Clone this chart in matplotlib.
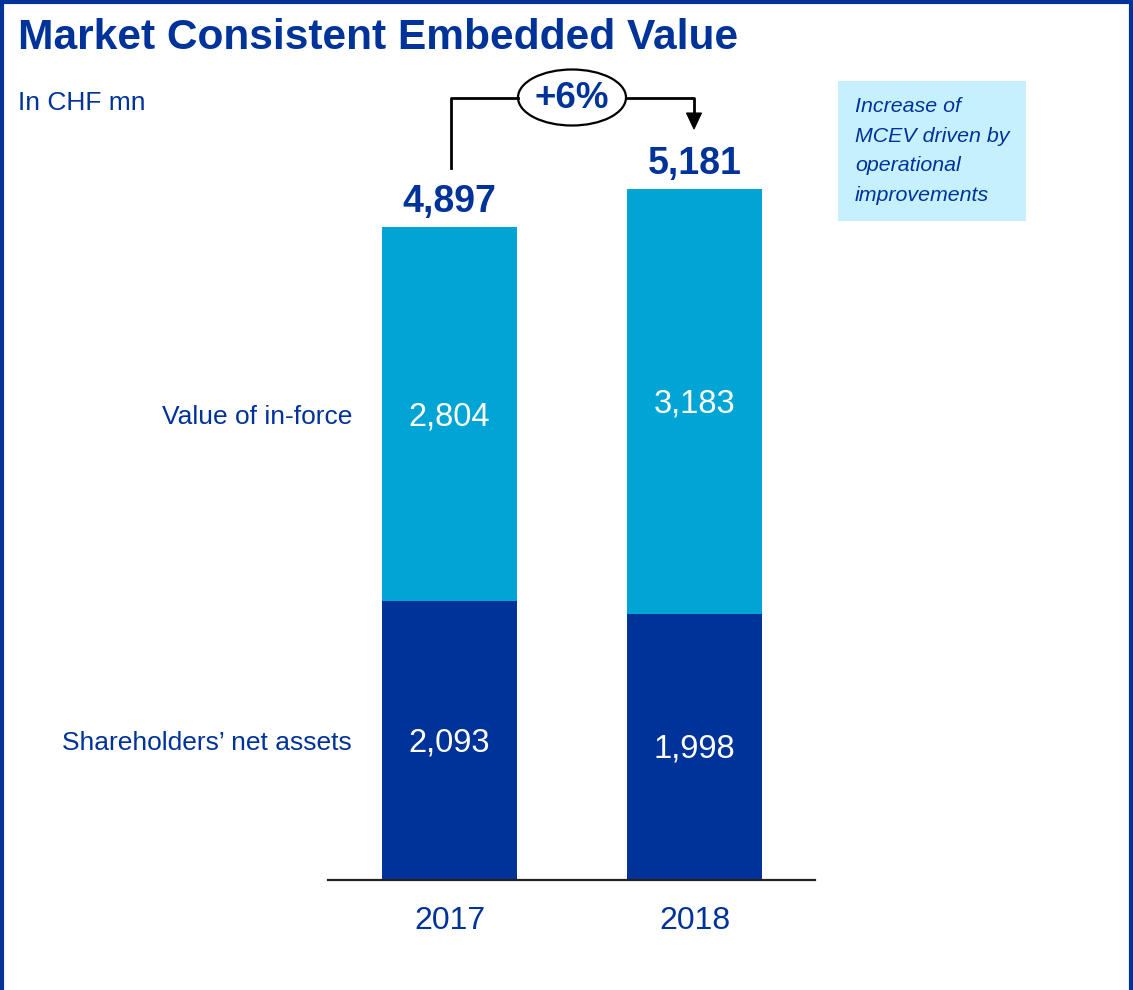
import matplotlib as mpl
mpl.use('Agg')
import matplotlib.pyplot as plt
from matplotlib import font_manager
from matplotlib.patches import Ellipse, Rectangle, Polygon

# data
years = ['2017', '2018']
net_assets = [2093, 1998]
value_inforce = [2804, 3183]
totals = [4897, 5181]
growth_label = '+6%'
row_labels = ['Shareholders\u2019 net assets', 'Value of in-force']
note_text = 'Increase of\nMCEV driven by\noperational\nimprovements'

dark_blue = '#00339A'
light_blue = '#00A5D5'
plt.rcParams['font.family'] = ['Liberation Sans', 'DejaVu Sans']

# look for an italic Arial-like font file
italic_file = None
for cand in ['LiberationSans-Italic', 'Arimo-Italic', 'Roboto-Italic', 'NotoSans-Italic', 'OpenSans-Italic']:
    for f in font_manager.findSystemFonts():
        if cand.lower() in f.lower().replace(' ', ''):
            italic_file = f
            break
    if italic_file:
        break
if italic_file:
    note_font = font_manager.FontProperties(fname=italic_file, size=15.4)
else:
    note_font = font_manager.FontProperties(family='Liberation Sans', style='italic', size=15.4)

W, H = 1133, 990
fig = plt.figure(figsize=(W/100.0, H/100.0), dpi=100)

# chart axes
ax = fig.add_axes([328/W, 110/H, 487/W, 800/H])
ax.patch.set_visible(False)
ax.set_xlim((328-449.5)/245.0, (815-449.5)/245.0)
ax.set_ylim(0, 6000)
x = list(range(len(years)))
bw = 135/245.0
ax.bar(x, net_assets, width=bw, color=dark_blue, zorder=2)
ax.bar(x, value_inforce, bottom=net_assets, width=bw, color=light_blue, zorder=2)
for s in ['top', 'left', 'right']:
    ax.spines[s].set_visible(False)
ax.spines['bottom'].set_linewidth(1.6)
ax.spines['bottom'].set_color('#222222')
ax.set_yticks([])
ax.set_xticks(x)
ax.set_xticklabels(years, fontsize=23, color=dark_blue)
ax.tick_params(axis='x', length=0, pad=19)

for i in x:
    ax.text(i, net_assets[i]/2.0 - 20, '{:,}'.format(net_assets[i]), color='white',
            fontsize=23.5, ha='center', va='center')
    ax.text(i, net_assets[i] + value_inforce[i]/2.0 - 20, '{:,}'.format(value_inforce[i]),
            color='white', fontsize=23.5, ha='center', va='center')
    ax.text(i, totals[i] + 55, '{:,}'.format(totals[i]), color=dark_blue,
            fontsize=27, fontweight='bold', ha='center', va='bottom')

# row labels on the left
lab_x = (352-449.5)/245.0
ax.text(lab_x, net_assets[0]/2.0 - 20, row_labels[0], color=dark_blue, fontsize=19,
        ha='right', va='center')
ax.text(lab_x, net_assets[0] + value_inforce[0]/2.0 - 20, row_labels[1], color=dark_blue,
        fontsize=19, ha='right', va='center')

# overlay axes in pixel coordinates for free text / decoration
ov = fig.add_axes([0, 0, 1, 1])
ov.set_zorder(5)
ov.set_xlim(0, W)
ov.set_ylim(H, 0)
ov.axis('off')

# border (top, left, right)
ov.plot([1.5, 1.5, W-2.5, W-2.5], [H, 1.5, 1.5, H], color=dark_blue, lw=3, solid_joinstyle='miter')

ov.text(18, 38, 'Market Consistent Embedded Value', fontsize=30.6, fontweight='bold',
        color=dark_blue, ha='left', va='center')
ov.text(18, 103, 'In CHF mn', fontsize=19, color=dark_blue, ha='left', va='center')

# growth connector
ov.plot([451, 451, 518], [168, 97.5, 97.5], color='black', lw=2)
ov.plot([626, 694, 694], [97.5, 97.5, 114], color='black', lw=2)
ov.add_patch(Polygon([(686.5, 113), (701.5, 113), (694, 129)], closed=True,
                     facecolor='black', edgecolor='black', lw=0.8))
ov.add_patch(Ellipse((572, 97.5), 108, 56, facecolor='white', edgecolor='black', lw=1.6))
ov.text(572, 99, growth_label, fontsize=26.5, fontweight='bold', color=dark_blue,
        ha='center', va='center')

# note box
ov.add_patch(Rectangle((838, 81), 188, 140, facecolor='#C6F0FD', edgecolor='none'))
ov.text(855, 151, note_text, fontproperties=note_font, color=dark_blue,
        ha='left', va='center', linespacing=1.7)

fig.savefig('out.png', dpi=100)
